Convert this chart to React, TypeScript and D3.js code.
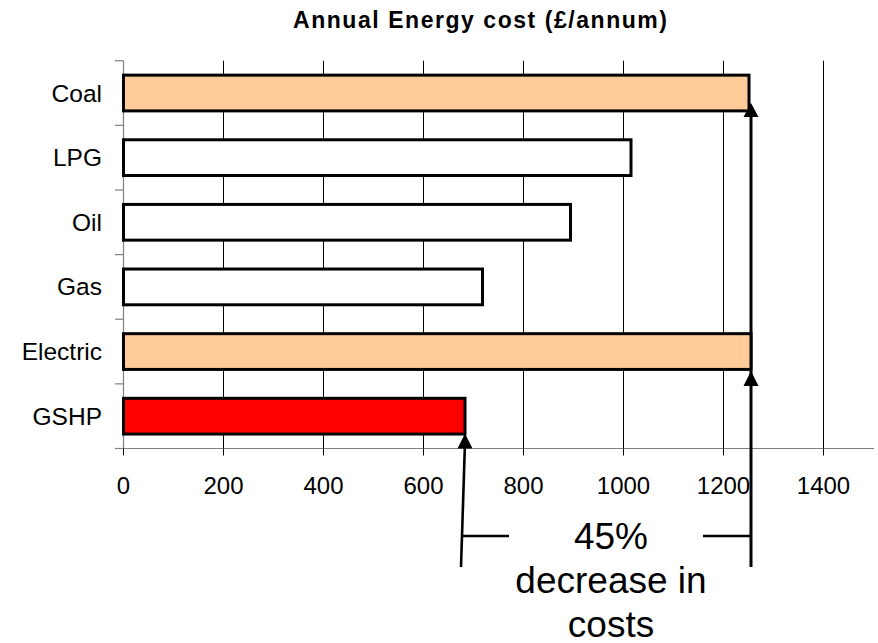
import React from "react";
import * as d3 from "d3";

const categories = ["Coal", "LPG", "Oil", "Gas", "Electric", "GSHP"];
const costs = [1251, 1015, 894, 718, 1255, 683];
const fills = ["#FFCC99", "#FFFFFF", "#FFFFFF", "#FFFFFF", "#FFCC99", "#FF0000"];
const xTicks = [0, 200, 400, 600, 800, 1000, 1200, 1400];
const title = "Annual Energy cost (£/annum)";
const noteLines = ["45%", "decrease in", "costs"];

const W = 878;
const H = 643;
const FONT = "'Liberation Sans', Arial, Helvetica, sans-serif";

export default function App() {
  const left = 123.5;
  const top = 60.7;
  const bottom = 448.5;
  const x = d3.scaleLinear().domain([0, 1400]).range([left, left + 700]);
  const y = d3
    .scaleBand<string>()
    .domain(categories)
    .range([top, bottom])
    .paddingInner(0.447)
    .paddingOuter(0.2235);
  const step = y.step();
  const bandEdges = d3.range(categories.length + 1).map((i) => top + i * step);

  const ref = categories.indexOf("Electric");
  const cmp = categories.indexOf("GSHP");
  const xr = x(costs[ref]);
  const xl = x(costs[cmp]);
  const annBottom = 567;
  const dimY = 536;
  const head = 15;
  const half = 7.5;
  const coalBottom = (y("Coal") as number) + y.bandwidth();
  const elecBottom = (y("Electric") as number) + y.bandwidth();
  const gshpBottom = (y("GSHP") as number) + y.bandwidth();
  const midX = (xl + xr) / 2 + 3;

  return (
    <svg
      width={W}
      height={H}
      style={{ position: "absolute", left: 0, top: 0, background: "#fff" }}
      fontFamily={FONT}
    >
      <rect x={0} y={0} width={W} height={H} fill="#fff" />
      <text
        x={480}
        y={28}
        textAnchor="middle"
        fontWeight="bold"
        fontSize={23}
        textLength={374}
        lengthAdjust="spacing"
        fill="#000"
      >
        {title}
      </text>

      {/* gridlines */}
      {xTicks.slice(1).map((t) => (
        <line key={"g" + t} x1={x(t)} x2={x(t)} y1={top} y2={bottom} stroke="#000" strokeWidth={1} />
      ))}

      {/* axes */}
      <line x1={left} x2={left} y1={top} y2={bottom} stroke="#808080" strokeWidth={1.2} />
      <line x1={115} x2={874} y1={bottom} y2={bottom} stroke="#808080" strokeWidth={1.2} />
      {bandEdges.map((e, i) => (
        <line key={"yt" + i} x1={115} x2={left} y1={e} y2={e} stroke="#808080" strokeWidth={1.2} />
      ))}
      {xTicks.map((t) => (
        <line key={"xt" + t} x1={x(t)} x2={x(t)} y1={bottom} y2={bottom + 7} stroke="#000" strokeWidth={1} />
      ))}
      {xTicks.map((t) => (
        <text key={"xl" + t} x={x(t)} y={494} textAnchor="middle" fontSize={24} fill="#000">
          {t}
        </text>
      ))}
      {categories.map((c) => (
        <text
          key={"yl" + c}
          x={102}
          y={(y(c) as number) + y.bandwidth() / 2 + 8.5}
          textAnchor="end"
          fontSize={24.5}
          fill="#000"
        >
          {c}
        </text>
      ))}

      {/* right annotation arrow (under bars) */}
      <line x1={xr} x2={xr} y1={annBottom} y2={coalBottom + 4} stroke="#000" strokeWidth={3} />
      <path
        d={`M${xr},${coalBottom - 8} L${xr - half},${coalBottom + 6} L${xr + half},${coalBottom + 6} Z`}
        fill="#000"
      />
      <path
        d={`M${xr},${elecBottom + 1.5} L${xr - half},${elecBottom + 1.5 + head} L${xr + half},${elecBottom + 1.5 + head} Z`}
        fill="#000"
      />

      {/* bars */}
      {categories.map((c, i) => (
        <rect
          key={"b" + c}
          x={x(0)}
          y={y(c) as number}
          width={x(costs[i]) - x(0)}
          height={y.bandwidth()}
          fill={fills[i]}
          stroke="#000"
          strokeWidth={3}
        />
      ))}

      {/* left annotation arrow */}
      <line x1={xl} x2={xl - 4} y1={gshpBottom + 8} y2={annBottom} stroke="#000" strokeWidth={2.6} />
      <path
        d={`M${xl},${gshpBottom - 0.5} L${xl - half},${gshpBottom - 0.5 + head} L${xl + half},${gshpBottom - 0.5 + head} Z`}
        fill="#000"
      />

      {/* dimension lines */}
      <line x1={xl - 4} x2={509} y1={dimY} y2={dimY} stroke="#000" strokeWidth={2.4} />
      <line x1={703} x2={xr} y1={dimY} y2={dimY} stroke="#000" strokeWidth={2.4} />

      {noteLines.map((s, i) => (
        <text key={"n" + i} x={midX} y={549 + i * 44} textAnchor="middle" fontSize={37} fill="#000">
          {s}
        </text>
      ))}
    </svg>
  );
}
